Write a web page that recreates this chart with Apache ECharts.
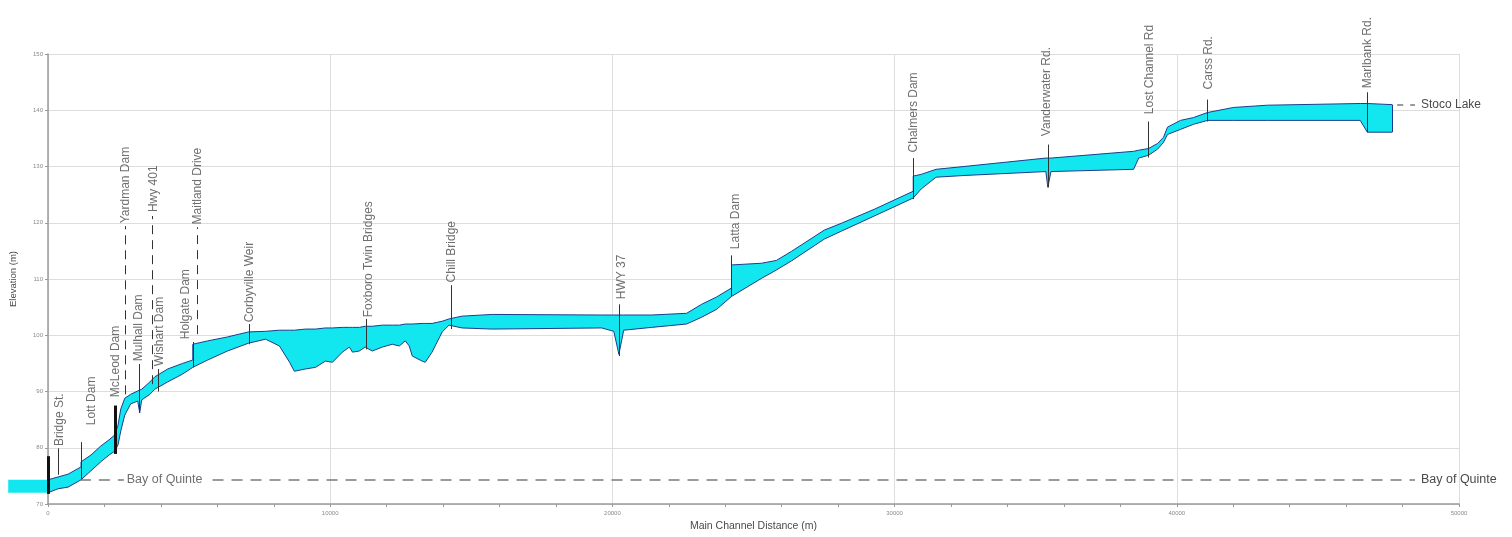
<!DOCTYPE html>
<html>
<head>
<meta charset="utf-8">
<script src="https://cdn.jsdelivr.net/npm/echarts@6/dist/echarts.min.js"></script>
<style>
  html, body { margin: 0; padding: 0; background: #ffffff; }
  #chart { width: 1512px; height: 537px; }
</style>
</head>
<body>
<div id="chart"></div>
<script>
// Moira River main channel profile: distance upstream (m), water surface and bed elevation (m)
const distance = [
  -1410, 0, 350, 710, 1170, 1170, 1520, 1870, 2160, 2370,
  2480, 2580, 2720, 2930, 3180, 3250, 3320, 3610, 3780, 4240,
  4770, 5130, 5130, 5660, 6360, 7110, 7710, 8200, 8560, 8730,
  9120, 9480, 9830, 10080, 10430, 10680, 10790, 11030, 11240, 11490,
  11850, 12200, 12450, 12660, 12800, 12910, 13260, 13370, 13610, 13790,
  13970, 14210, 14670, 15740, 19620, 20050, 20230, 20400, 21390, 22630,
  23160, 23690, 24220, 24220, 25280, 25810, 26340, 27510, 28110, 29280,
  30660, 30660, 30940, 31470, 32460, 35360, 35430, 35540, 38470, 38650,
  39000, 39320, 39530, 39670, 40130, 40590, 41090, 42010, 43210, 46500,
  46750, 47630
];
const waterSurface = [
  74.3, 74.3, 74.8, 75.3, 76.6, 77.5, 78.7, 80.3, 81.4, 82.3,
  84.0, 86.9, 88.8, 89.5, 90.1, 90.2, 90.4, 91.7, 92.6, 94.0,
  95.0, 95.6, 98.4, 99.0, 99.7, 100.6, 100.7, 100.9, 100.9, 100.9,
  101.1, 101.1, 101.3, 101.3, 101.4, 101.4, 101.4, 101.4, 101.6, 101.6,
  101.8, 101.8, 101.8, 102.0, 102.0, 102.0, 102.1, 102.1, 102.1, 102.3,
  102.5, 102.9, 103.4, 103.7, 103.6, 103.6, 103.6, 103.6, 103.6, 103.9,
  105.5, 106.8, 108.4, 112.5, 112.8, 113.3, 114.9, 118.7, 119.9, 122.4,
  125.6, 128.3, 128.6, 129.5, 130.0, 131.5, 131.5, 131.5, 132.7, 132.9,
  133.2, 134.1, 135.2, 137.0, 138.2, 138.7, 139.6, 140.5, 140.9, 141.2,
  141.2, 141.0
];
const channelBed = [
  72.0, 72.0, 72.7, 73.0, 74.3, 74.3, 75.9, 77.5, 78.7, 79.4,
  80.5, 83.0, 85.8, 87.8, 88.3, 86.2, 88.5, 89.5, 90.4, 91.7,
  93.1, 94.3, 94.3, 95.6, 97.2, 98.6, 99.3, 98.1, 95.2, 93.6,
  94.0, 94.3, 95.4, 95.2, 97.0, 97.9, 97.0, 97.2, 97.9, 97.2,
  97.9, 98.4, 98.1, 99.0, 98.1, 96.3, 95.4, 95.2, 97.0, 98.8,
  100.6, 101.8, 101.3, 101.1, 101.3, 100.7, 96.6, 100.9, 101.4, 102.0,
  103.2, 104.6, 106.9, 106.9, 110.1, 111.6, 113.2, 117.1, 118.5, 121.2,
  124.4, 124.4, 126.0, 128.1, 128.4, 129.1, 126.3, 129.1, 129.5, 131.5,
  132.0, 133.1, 134.3, 135.7, 136.6, 137.5, 138.2, 138.2, 138.2, 138.2,
  136.1, 136.1
];

// Structures crossing the channel: station, lower and upper end of the marker (m)
const structX    = [0, 350, 1170, 2370, 2720, 3250, 3710, 3890, 5130, 5300, 7140, 11280, 14290, 20230, 24220, 30660, 35430, 39000, 41090, 46750];
const structBase = [71.8, 75.2, 74.3, 78.9, 89.5, 86.2, 91.3, 90.0, 94.3, 100.2, 98.4, 97.5, 101.1, 96.3, 106.9, 124.2, 126.3, 131.6, 138.0, 136.1];
const structTop  = [78.5, 79.9, 81.0, 87.5, 119.4, 94.9, 121.2, 94.0, 98.8, 119.2, 102.0, 102.9, 108.9, 105.5, 114.2, 131.5, 133.9, 138.0, 141.9, 143.2];
const structDash = [false, false, false, false, true, false, true, false, false, true, false, false, false, false, false, false, false, false, false, false];
const structWide = [true, false, false, true, false, false, false, false, false, false, false, false, false, false, false, false, false, false, false, false];

// Structure names and where their text starts
const labelNames = ['Bridge St.', 'Lott Dam', 'McLeod Dam', 'Yardman Dam', 'Mulhall Dam', 'Hwy 401', 'Wishart Dam',
  'Holgate Dam', 'Maitland Drive', 'Corbyville Weir', 'Foxboro Twin Bridges', 'Chill Bridge', 'HWY 37',
  'Latta Dam', 'Chalmers Dam', 'Vanderwater Rd.', 'Lost Channel Rd', 'Carss Rd.', 'Marlbank Rd.'];
const labelX = [420, 1560, 2400, 2760, 3220, 3750, 3960, 4880, 5300, 7140, 11350, 14320, 20330, 24360, 30660, 35400, 39030, 41120, 46750];
const labelY = [80.3, 84.0, 89.0, 119.9, 95.4, 121.9, 94.5, 99.3, 119.7, 102.3, 103.2, 109.4, 106.4, 115.3, 132.5, 135.4, 139.3, 143.7, 143.9];

// Reach boundary water levels (m)
const bayOfQuinte = 74.3;
const stocoLake = 141.0;
const reachEnd = 47630;

const NAVY = '#1d3d8c';
const CYAN = '#12e7ef';
const TEXT = '#4a4a4a';
const FONT = '"Liberation Sans", Arial, sans-serif';

const surfacePoints = distance.map((d, i) => [d, waterSurface[i]]);
const bedPoints = distance.map((d, i) => [d, channelBed[i]]);

const structureLines = structX.map((x, i) => [
  { coord: [x, structBase[i]],
    lineStyle: { color: structWide[i] ? '#111111' : '#333333', width: structWide[i] ? 3 : 1,
                 type: structDash[i] ? [9, 6] : 'solid' } },
  { coord: [x, structTop[i]] }
]);

const dashGrey = '#7a7a7a';
const boundaryLines = [
  [{ coord: [1130, bayOfQuinte], lineStyle: { color: dashGrey, width: 1.5, type: [11, 8] } },
   { coord: [2690, bayOfQuinte] }],
  [{ coord: [5830, bayOfQuinte], lineStyle: { color: dashGrey, width: 1.5, type: [11, 8] },
     label: { show: true, position: 'end', formatter: 'Bay of Quinte', color: TEXT, fontSize: 12.5, fontFamily: FONT, distance: 6 } },
   { coord: [48440, bayOfQuinte] }],
  [{ coord: [47810, stocoLake], lineStyle: { color: dashGrey, width: 1.5, type: [6, 7] },
     label: { show: true, position: 'end', formatter: 'Stoco Lake', color: TEXT, fontSize: 12, fontFamily: FONT, distance: 6 } },
   { coord: [48440, stocoLake] }],
  [{ coord: [reachEnd, channelBed[channelBed.length - 1]], lineStyle: { color: NAVY, width: 1, type: 'solid' } },
   { coord: [reachEnd, waterSurface[waterSurface.length - 1]] }]
];

// Water body: one polygon running up the surface and back down the bed
function renderWater(params, api) {
  if (params.dataIndex !== 0) return null;
  const pts = [];
  for (let i = 0; i < distance.length; i++) pts.push(api.coord([distance[i], waterSurface[i]]));
  for (let i = distance.length - 1; i >= 0; i--) pts.push(api.coord([distance[i], channelBed[i]]));
  return { type: 'polygon', shape: { points: pts }, style: { fill: CYAN, stroke: null } };
}

const chart = echarts.init(document.getElementById('chart'), null, { renderer: 'canvas' });

chart.setOption({
  animation: false,
  backgroundColor: '#ffffff',
  grid: { left: 45, right: 53, top: 54, bottom: 32, containLabel: false },
  xAxis: {
    type: 'value', min: 0, max: 50000, interval: 10000,
    name: 'Main Channel Distance (m)', nameLocation: 'middle', nameGap: 17,
    nameTextStyle: { color: TEXT, fontSize: 10.5, fontFamily: FONT },
    axisLine: { onZero: false, lineStyle: { color: '#9a9a9a', width: 1.5 } },
    axisTick: { show: true, length: 3, lineStyle: { color: '#9a9a9a' } },
    minorTick: { show: true, splitNumber: 5, length: 3, lineStyle: { color: '#9a9a9a' } },
    axisLabel: { color: '#8a8a8a', fontSize: 6, fontFamily: FONT, margin: 6, formatter: v => String(v) },
    splitLine: { show: true, lineStyle: { color: '#dddddd', width: 1 } }
  },
  yAxis: {
    type: 'value', min: 70, max: 150, interval: 10,
    name: 'Elevation (m)', nameLocation: 'middle', nameGap: 30,
    nameTextStyle: { color: TEXT, fontSize: 9.5, fontFamily: FONT },
    axisLine: { show: true, onZero: false, lineStyle: { color: '#9a9a9a', width: 1.5 } },
    axisTick: { show: true, length: 3, lineStyle: { color: '#9a9a9a' } },
    axisLabel: { color: '#8a8a8a', fontSize: 6, fontFamily: FONT, margin: 5 },
    splitLine: { show: true, lineStyle: { color: '#dddddd', width: 1 } }
  },
  series: [
    {
      name: 'Water', type: 'custom', renderItem: renderWater, clip: false, z: 2,
      data: surfacePoints, silent: true
    },
    {
      name: 'Water surface', type: 'line', data: surfacePoints,
      symbol: 'none', clip: false, z: 3,
      lineStyle: { color: NAVY, width: 1 }
    },
    {
      name: 'Channel bed', type: 'line', data: bedPoints,
      symbol: 'none', clip: false, z: 3,
      lineStyle: { color: NAVY, width: 1 },
      markLine: {
        silent: true, symbol: ['none', 'none'], animation: false,
        label: { show: false },
        emphasis: { disabled: true },
        data: structureLines.concat(boundaryLines)
      }
    },
    {
      name: 'Structures', type: 'scatter', symbolSize: 1, clip: false, z: 5,
      itemStyle: { color: 'rgba(0,0,0,0)' },
      data: labelX.map((x, i) => ({ value: [x, labelY[i]], name: labelNames[i] })),
      label: {
        show: true, formatter: '{b}', position: 'inside', rotate: 90,
        align: 'left', verticalAlign: 'middle',
        color: TEXT, fontSize: 12, fontFamily: FONT
      }
    },
    {
      name: 'Downstream', type: 'scatter', symbolSize: 1, clip: false, z: 5,
      itemStyle: { color: 'rgba(0,0,0,0)' },
      data: [{ value: [2790, bayOfQuinte], name: 'Bay of Quinte' }],
      label: {
        show: true, formatter: '{b}', position: 'inside',
        align: 'left', verticalAlign: 'middle',
        color: TEXT, fontSize: 12.5, fontFamily: FONT
      }
    }
  ]
});
</script>
</body>
</html>
